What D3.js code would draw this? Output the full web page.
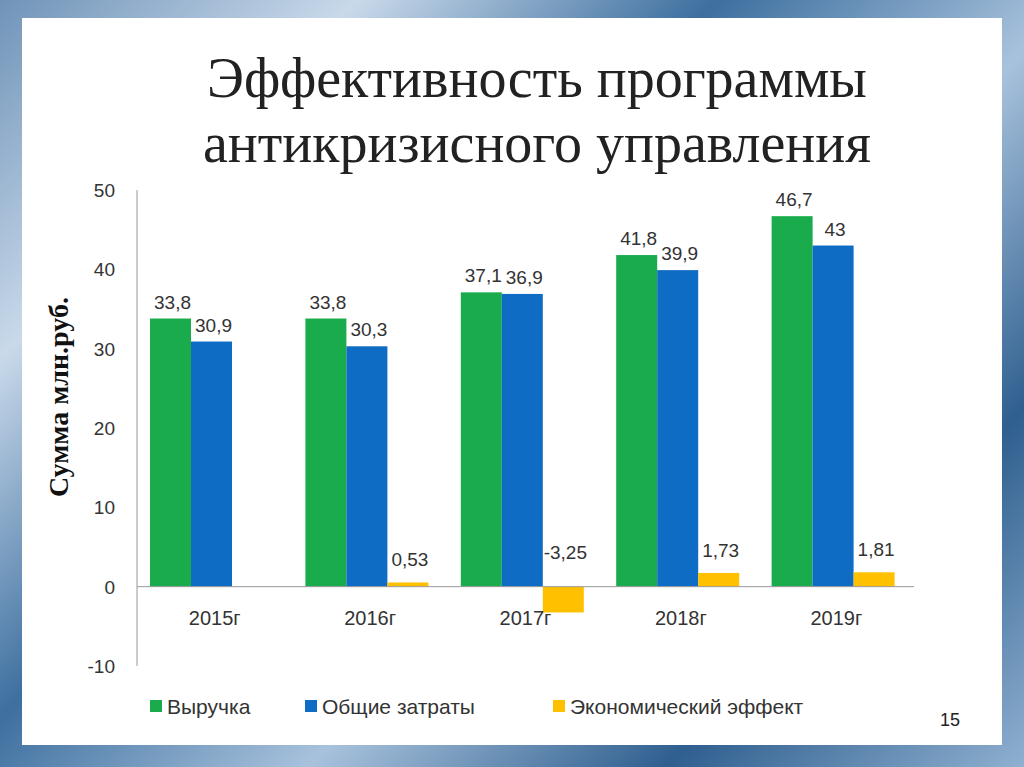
<!DOCTYPE html>
<html><head><meta charset="utf-8">
<script src="https://cdn.jsdelivr.net/npm/d3@7"></script>
<style>
body{margin:0;width:1024px;height:767px;overflow:hidden;
background:linear-gradient(135deg,#6f93b8 0%,#c9d9ea 20%,#3d6f9f 40%,#a8c2dc 60%,#2f5f8f 80%,#8fb0d0 100%);}
</style></head><body>
<svg id="c" width="1024" height="767"></svg>
<script>
// chart data
const years = ["2015г", "2016г", "2017г", "2018г", "2019г"];
const series = ["Выручка", "Общие затраты", "Экономический эффект"];
const revenue = [33.8, 33.8, 37.1, 41.8, 46.7];
const costs = [30.9, 30.3, 36.9, 39.9, 43];
const effect = [null, 0.53, -3.25, 1.73, 1.81];
const yTicks = [-10, 0, 10, 20, 30, 40, 50];
const colors = ["#1aac4c", "#0e6cc4", "#ffc000"];

const svg = d3.select("#c");
svg.append("rect").attr("x", 22).attr("y", 18).attr("width", 980).attr("height", 727).attr("fill", "#fff");

svg.append("text").attr("x", 537).attr("y", 97).attr("text-anchor", "middle")
    .attr("font-family", "Liberation Serif").attr("font-size", 56).attr("fill", "#222")
    .text("Эффективность программы");
svg.append("text").attr("x", 537).attr("y", 162).attr("text-anchor", "middle")
    .attr("font-family", "Liberation Serif").attr("font-size", 56).attr("fill", "#222")
    .text("антикризисного управления");

const y = d3.scaleLinear().domain([-10, 50]).range([666, 190]);
const x = d3.scaleBand().domain(years).range([137, 914]);
const inner = d3.scaleBand().domain(d3.range(3)).range([13, 136]);

svg.append("line").attr("x1", 137).attr("x2", 137).attr("y1", y(50)).attr("y2", y(-10)).attr("stroke", "#999");
svg.selectAll(".yt").data(yTicks).join("text")
    .attr("x", 115).attr("y", d => y(d) + 7).attr("text-anchor", "end")
    .attr("font-family", "Liberation Sans").attr("font-size", 19).attr("fill", "#333").text(d => d);

const data = [revenue, costs, effect];
const g = svg.append("g");
data.forEach((vals, si) => {
    vals.forEach((v, i) => {
        if (v === null) return;
        const bx = x(years[i]) + inner(si);
        g.append("rect").attr("x", bx).attr("width", inner.bandwidth())
            .attr("y", y(Math.max(0, v))).attr("height", Math.abs(y(v) - y(0)))
            .attr("fill", colors[si]);
        const ly = si === 2 ? y(Math.max(0, v)) - 16 - (v < 0 ? 12 : 0) : y(v) - 10;
        g.append("text").attr("x", bx + inner.bandwidth() / 2 + 2).attr("y", ly)
            .attr("text-anchor", "middle").attr("font-family", "Liberation Sans").attr("font-size", 19)
            .attr("fill", "#333").text(String(v).replace(".", ","));
    });
});

svg.append("line").attr("x1", 137).attr("x2", 914).attr("y1", y(0)).attr("y2", y(0)).attr("stroke", "#999");
svg.selectAll(".xt").data(years).join("text")
    .attr("x", d => x(d) + x.bandwidth() / 2).attr("y", 625).attr("text-anchor", "middle")
    .attr("font-family", "Liberation Sans").attr("font-size", 20).attr("fill", "#333").text(d => d);

svg.append("text").attr("transform", "translate(68,397) rotate(-90)").attr("text-anchor", "middle")
    .attr("font-family", "Liberation Serif").attr("font-weight", "bold").attr("font-size", 28)
    .attr("fill", "#111").text("Сумма млн.руб.");

const lx = [150, 305, 553];
series.forEach((s, i) => {
    svg.append("rect").attr("x", lx[i]).attr("y", 700).attr("width", 12).attr("height", 12).attr("fill", colors[i]);
    svg.append("text").attr("x", lx[i] + 17).attr("y", 714).attr("font-family", "Liberation Sans")
        .attr("font-size", 21).attr("fill", "#333").text(s);
});
svg.append("text").attr("x", 950).attr("y", 726).attr("text-anchor", "middle")
    .attr("font-family", "Liberation Sans").attr("font-size", 18).attr("fill", "#222").text("15");
</script>
</body></html>
